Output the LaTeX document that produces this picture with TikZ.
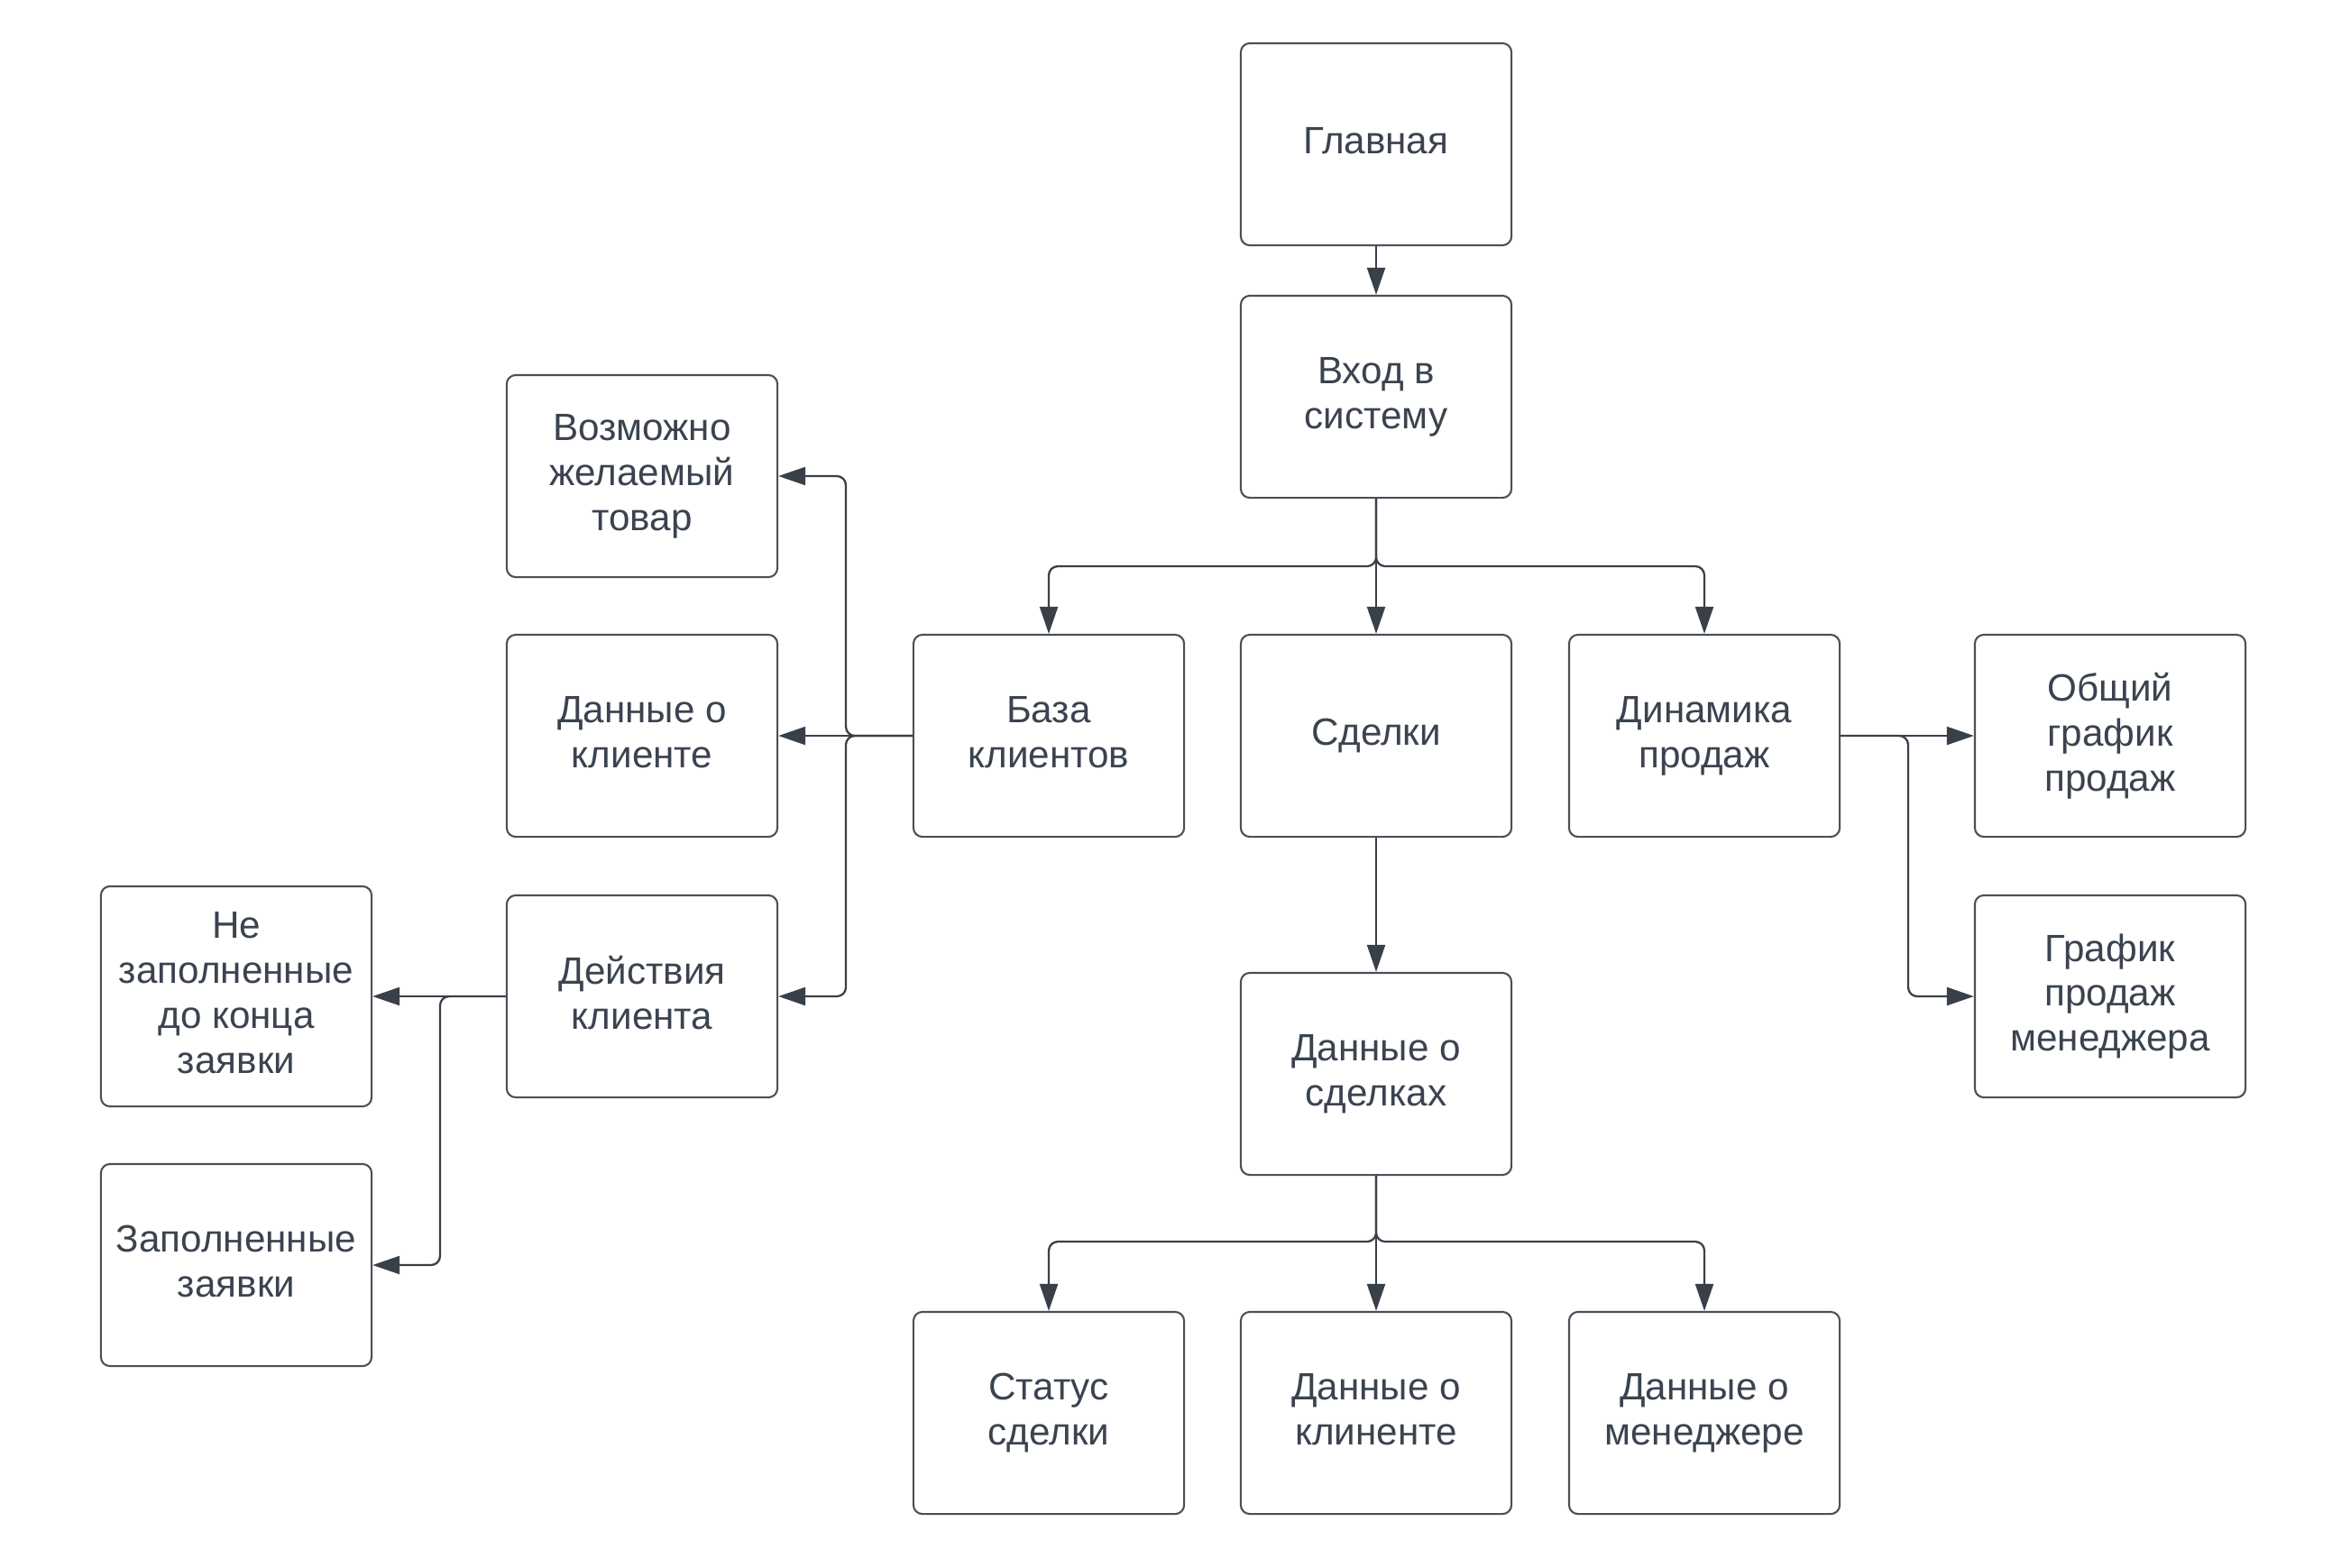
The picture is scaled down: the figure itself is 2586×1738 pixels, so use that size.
\documentclass[tikz,border=0pt]{standalone}
\usepackage{fontspec}
\setmainfont{Liberation Sans}
\usetikzlibrary{arrows.meta}
\definecolor{boxc}{HTML}{4A5059}
\definecolor{linec}{HTML}{3A4049}
\definecolor{txtc}{HTML}{3B4350}
\begin{document}
\begin{tikzpicture}[x=0.01cm,y=-0.01cm,
  box/.style={draw=boxc, line width=0.6pt, rounded corners=0.1cm,
    minimum width=3cm, minimum height=2.24cm, align=center, inner sep=0pt,
    text=txtc, font=\fontsize{12}{14.2}\selectfont,
    execute at end node={\vphantom{р}}},
  conn/.style={draw=linec, line width=0.65pt, rounded corners=0.1cm,
    -{Triangle[length=3mm,width=2mm]}}]
\useasboundingbox[fill=white] (0,0) rectangle (2586,1738);

% boxes
\node[box] (glav)   at (1526,160)  {Главная};
\node[box] (vhod)   at (1526,440)  {Вход в\\систему};
\node[box] (baza)   at (1163,816)  {База\\клиентов};
\node[box] (sdelki) at (1526,816)  {Сделки};
\node[box] (dinam)  at (1890,816)  {Динамика\\продаж};
\node[box] (obsh)   at (2340,816)  {Общий\\график\\продаж};
\node[box] (graf)   at (2340,1105) {График\\продаж\\менеджера};
\node[box] (vozm)   at (712,528)   {Возможно\\желаемый\\товар};
\node[box] (dkl)    at (712,816)   {Данные о\\клиенте};
\node[box] (deistv) at (712,1105)  {Действия\\клиента};
\node[box, minimum height=2.44cm] (nezap) at (262,1105) {Не\\заполненные\\до конца\\заявки};
\node[box] (zap)    at (262,1403)  {Заполненные\\заявки};
\node[box] (dsd)    at (1526,1191) {Данные о\\сделках};
\node[box] (status) at (1163,1567) {Статус\\сделки};
\node[box] (dkln)   at (1526,1567) {Данные о\\клиненте};
\node[box] (dmen)   at (1890,1567) {Данные о\\менеджере};

% branch points
\coordinate (j1) at (1526,628);
\coordinate (j2) at (938,816);
\coordinate (j3) at (488,1105);
\coordinate (j4) at (2116,816);
\coordinate (j5) at (1526,1377);

% connectors
\draw[conn] (glav.south) -- (vhod.north);
\draw[conn] (vhod.south) -- (j1) -| (baza.north);
\draw[conn] (vhod.south) -- (sdelki.north);
\draw[conn] (vhod.south) -- (j1) -| (dinam.north);

\draw[conn] (baza.west) -- (j2) |- (vozm.east);
\draw[conn] (baza.west) -- (dkl.east);
\draw[conn] (baza.west) -- (j2) |- (deistv.east);

\draw[conn] (deistv.west) -- (nezap.east);
\draw[conn] (deistv.west) -- (j3) |- (zap.east);

\draw[conn] (dinam.east) -- (obsh.west);
\draw[conn] (dinam.east) -- (j4) |- (graf.west);

\draw[conn] (sdelki.south) -- (dsd.north);
\draw[conn] (dsd.south) -- (j5) -| (status.north);
\draw[conn] (dsd.south) -- (dkln.north);
\draw[conn] (dsd.south) -- (j5) -| (dmen.north);
\end{tikzpicture}
\end{document}
